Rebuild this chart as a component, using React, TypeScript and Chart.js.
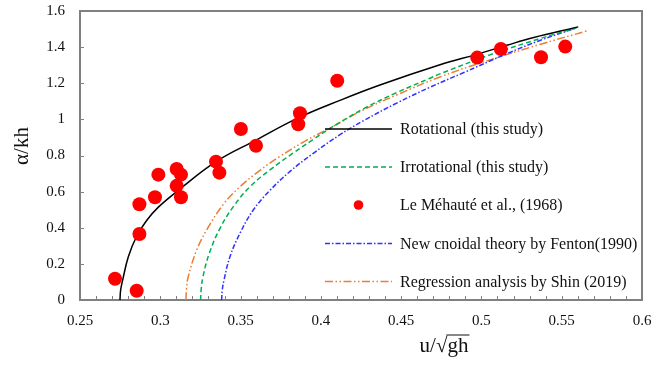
import React, { useEffect, useRef } from "react";
import { Chart, registerables } from "chart.js";

Chart.register(...registerables);

// ---------- data ----------
const xTickValues = [0.25, 0.3, 0.35, 0.4, 0.45, 0.5, 0.55, 0.6];
const xTickLabels = ["0.25", "0.3", "0.35", "0.4", "0.45", "0.5", "0.55", "0.6"];
const yTickValues = [0, 0.2, 0.4, 0.6, 0.8, 1, 1.2, 1.4, 1.6];
const yTickLabels = ["0", "0.2", "0.4", "0.6", "0.8", "1", "1.2", "1.4", "1.6"];

const rotationalX = [0.2749, 0.2753, 0.2766, 0.2801, 0.2853, 0.2915, 0.2988, 0.3112, 0.3347, 0.3596, 0.3859, 0.4119, 0.4368, 0.4742, 0.497, 0.5157, 0.532, 0.5603];
const rotationalY = [0, 0.055, 0.111, 0.24, 0.353, 0.44, 0.514, 0.607, 0.766, 0.885, 1.008, 1.105, 1.19, 1.302, 1.36, 1.41, 1.452, 1.512];

const irrotationalX = [0.3251, 0.3255, 0.3266, 0.3305, 0.3372, 0.3455, 0.3559, 0.3683, 0.3828, 0.3953, 0.4057, 0.4264, 0.4472, 0.468, 0.4742, 0.5053, 0.5364, 0.5593];
const irrotationalY = [0, 0.06, 0.129, 0.258, 0.397, 0.517, 0.627, 0.72, 0.814, 0.889, 0.95, 1.058, 1.148, 1.228, 1.252, 1.357, 1.447, 1.507];

const fentonX = [0.3382, 0.3386, 0.3397, 0.3434, 0.3496, 0.3579, 0.3683, 0.3808, 0.3953, 0.4119, 0.4264, 0.4472, 0.468, 0.4887, 0.5157, 0.5364, 0.5593];
const fentonY = [0, 0.055, 0.111, 0.24, 0.369, 0.498, 0.607, 0.712, 0.812, 0.915, 0.992, 1.09, 1.178, 1.258, 1.363, 1.437, 1.507];

const shinX = [0.316, 0.3163, 0.3174, 0.3227, 0.3289, 0.3393, 0.3496, 0.3621, 0.3745, 0.3912, 0.4057, 0.4264, 0.4472, 0.4742, 0.5053, 0.5364, 0.5655];
const shinY = [0, 0.06, 0.129, 0.277, 0.388, 0.53, 0.627, 0.718, 0.795, 0.885, 0.952, 1.052, 1.135, 1.235, 1.329, 1.415, 1.489];

const measuredX = [0.2718, 0.2853, 0.287, 0.287, 0.2967, 0.2988, 0.3102, 0.3129, 0.3102, 0.3129, 0.3347, 0.3368, 0.3502, 0.3596, 0.3859, 0.387, 0.4102, 0.4974, 0.5121, 0.5371, 0.5522];
const measuredY = [0.118, 0.051, 0.365, 0.53, 0.569, 0.694, 0.725, 0.694, 0.632, 0.569, 0.766, 0.705, 0.947, 0.854, 0.973, 1.034, 1.214, 1.342, 1.39, 1.344, 1.403];

const legendLabels = [
  "Rotational (this study)",
  "Irrotational (this study)",
  "Le Méhauté et al., (1968)",
  "New cnoidal theory by Fenton(1990)",
  "Regression analysis by Shin (2019)",
];

const xTitle = ["u/", "√", "gh"];
const yTitle = "α/kh";

const SERIF = "'Liberation Serif', 'Times New Roman', serif";

const toPts = (xs: number[], ys: number[]) => xs.map((x, i) => ({ x, y: ys[i] }));

const styles = [
  { color: "#000000", dash: [] as number[], width: 1.5, kind: "line" },
  { color: "#00B050", dash: [5, 3], width: 1.5, kind: "line" },
  { color: "#FF0000", dash: [] as number[], width: 0, kind: "point" },
  { color: "#3030FF", dash: [5, 2, 1.5, 2], width: 1.5, kind: "line" },
  { color: "#ED7D31", dash: [8, 2.5, 1.5, 2.5, 1.5, 2.5], width: 1.5, kind: "line" },
];

const decorPlugin = {
  id: "decor",
  beforeDatasetsDraw(chart: any) {
    const { ctx, chartArea: a, scales } = chart;
    const xs = scales.x;
    const ys = scales.y;
    ctx.save();
    ctx.strokeStyle = "#808080";
    ctx.lineWidth = 1;
    for (let i = 1; i < 35; i++) {
      const px = Math.round(xs.getPixelForValue(0.25 + i * 0.01)) + 0.5;
      ctx.beginPath();
      ctx.moveTo(px, a.bottom);
      ctx.lineTo(px, a.bottom - 4);
      ctx.stroke();
    }
    for (const v of yTickValues) {
      const py = Math.round(ys.getPixelForValue(v)) + 0.5;
      ctx.beginPath();
      ctx.moveTo(a.left, py);
      ctx.lineTo(a.left + 4, py);
      ctx.stroke();
    }
    ctx.lineWidth = 2;
    ctx.strokeRect(a.left, a.top, a.right - a.left, a.bottom - a.top);
    ctx.restore();
  },
  afterDraw(chart: any) {
    const { ctx } = chart;
    ctx.save();
    const rows = [129, 167, 205, 243.5, 281.5];
    const x0 = 325;
    const x1 = 392;
    ctx.font = `16px ${SERIF}`;
    ctx.textBaseline = "middle";
    ctx.textAlign = "left";
    legendLabels.forEach((lab, i) => {
      const s = styles[i];
      const y = rows[i];
      if (s.kind === "line") {
        ctx.strokeStyle = s.color;
        ctx.lineWidth = s.width;
        ctx.setLineDash(s.dash);
        ctx.beginPath();
        ctx.moveTo(x0, y);
        ctx.lineTo(x1, y);
        ctx.stroke();
        ctx.setLineDash([]);
      } else {
        ctx.fillStyle = s.color;
        ctx.beginPath();
        ctx.arc((x0 + x1) / 2, y, 4.8, 0, Math.PI * 2);
        ctx.fill();
      }
      ctx.fillStyle = "#111";
      ctx.fillText(lab, 400, y + 1);
    });

    ctx.save();
    ctx.translate(22, 146);
    ctx.rotate(-Math.PI / 2);
    ctx.font = `21px ${SERIF}`;
    ctx.textAlign = "center";
    ctx.textBaseline = "middle";
    ctx.fillStyle = "#111";
    ctx.fillText(yTitle, 0, 0);
    ctx.restore();

    ctx.font = `21px ${SERIF}`;
    ctx.textBaseline = "alphabetic";
    ctx.textAlign = "left";
    ctx.fillStyle = "#111";
    const w = xTitle.map((t) => ctx.measureText(t).width);
    const total = w[0] + w[1] + w[2];
    const sx = 444 - total / 2;
    const by = 352;
    ctx.fillText(xTitle[0], sx, by);
    ctx.fillText(xTitle[1], sx + w[0], by);
    ctx.fillText(xTitle[2], sx + w[0] + w[1], by);
    ctx.strokeStyle = "#111";
    ctx.lineWidth = 1;
    ctx.beginPath();
    const oy = by - 17;
    ctx.moveTo(sx + w[0] + w[1] - 1, oy);
    ctx.lineTo(sx + total + 1, oy);
    ctx.stroke();
    ctx.restore();
  },
};

export default function App() {
  const ref = useRef<HTMLCanvasElement | null>(null);

  useEffect(() => {
    if (!ref.current) return;
    const lineDs = (label: string, xs: number[], ys: number[], s: any) => ({
      type: "line" as const,
      label,
      data: toPts(xs, ys),
      borderColor: s.color,
      borderWidth: s.width,
      borderDash: s.dash,
      pointRadius: 0,
      fill: false,
      tension: 0.4,
      showLine: true,
    });
    const chart = new Chart(ref.current, {
      type: "scatter",
      data: {
        datasets: [
          {
            type: "scatter" as const,
            label: legendLabels[2],
            data: toPts(measuredX, measuredY),
            backgroundColor: styles[2].color,
            borderWidth: 0,
            pointRadius: 7,
            showLine: false,
            order: 0,
          } as any,
          { ...lineDs(legendLabels[0], rotationalX, rotationalY, styles[0]), order: 1 },
          { ...lineDs(legendLabels[1], irrotationalX, irrotationalY, styles[1]), order: 2 },
          { ...lineDs(legendLabels[3], fentonX, fentonY, styles[3]), order: 3 },
          { ...lineDs(legendLabels[4], shinX, shinY, styles[4]), order: 4 },
        ],
      },
      options: {
        responsive: false,
        animation: false,
        layout: { padding: { left: 0, right: 25, top: 11, bottom: 0 } },
        plugins: {
          legend: { display: false },
          tooltip: { enabled: false },
        },
        scales: {
          x: {
            type: "linear",
            min: 0.25,
            max: 0.6,
            grid: { display: false, drawTicks: false },
            border: { display: false },
            afterBuildTicks: (s: any) => {
              s.ticks = xTickValues.map((v) => ({ value: v }));
            },
            afterFit: (s: any) => {
              s.height = 65;
              s.paddingLeft = 0;
              s.paddingRight = 0;
            },
            ticks: {
              autoSkip: false,
              maxRotation: 0,
              padding: 12,
              color: "#111",
              font: { family: SERIF, size: 15 },
              callback: (_v: any, i: number) => xTickLabels[i],
            },
          },
          y: {
            type: "linear",
            min: 0,
            max: 1.6,
            grid: { display: false, drawTicks: false },
            border: { display: false },
            afterBuildTicks: (s: any) => {
              s.ticks = yTickValues.map((v) => ({ value: v }));
            },
            afterFit: (s: any) => {
              s.width = 80;
              s.paddingTop = 0;
              s.paddingBottom = 0;
            },
            ticks: {
              autoSkip: false,
              padding: 15,
              color: "#111",
              font: { family: SERIF, size: 15 },
              callback: (_v: any, i: number) => yTickLabels[i],
            },
          },
        },
      },
      plugins: [decorPlugin],
    });
    return () => chart.destroy();
  }, []);

  return (
    <div style={{ position: "absolute", left: 0, top: 0, width: 667, height: 365, background: "#fff" }}>
      <canvas ref={ref} width={667} height={365} style={{ display: "block" }} />
    </div>
  );
}
